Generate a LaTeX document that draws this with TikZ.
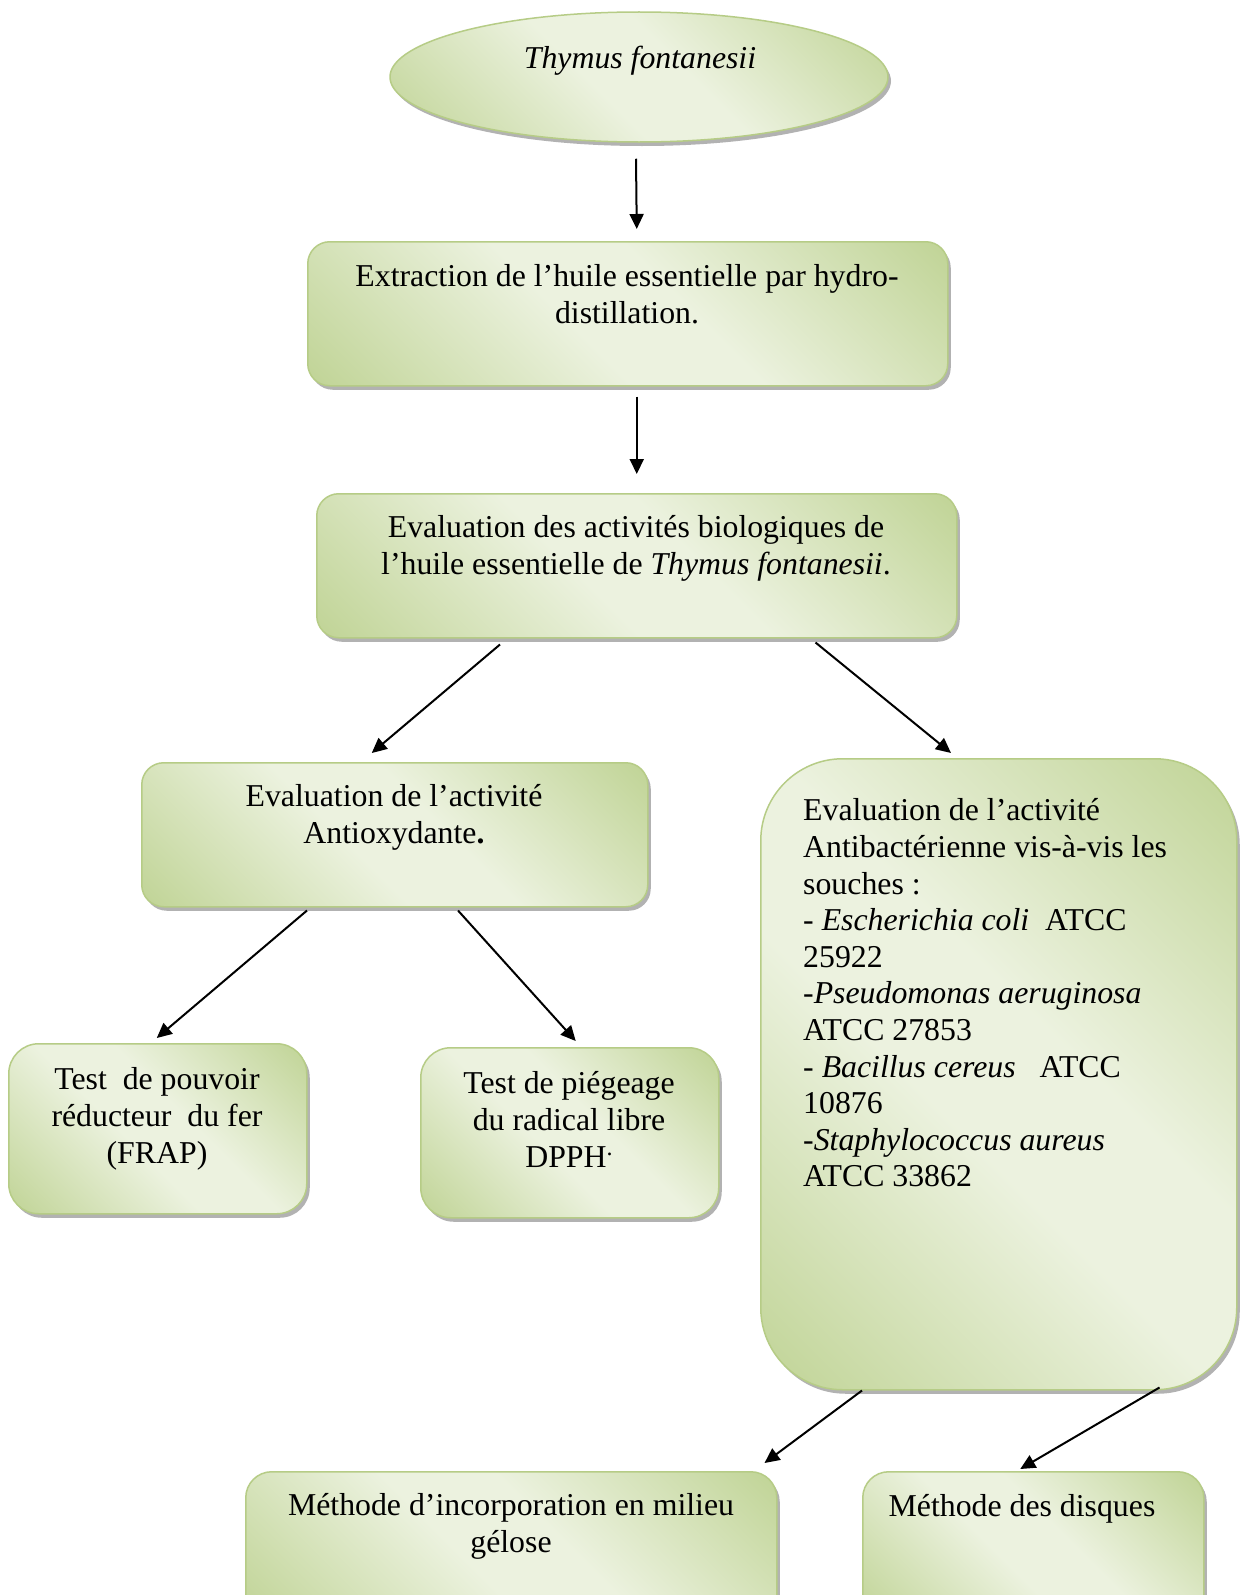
\documentclass[tikz,border=0pt]{standalone}
\usepackage{fontspec}
\setmainfont{Liberation Serif}
\usetikzlibrary{shapes.geometric,shadows,arrows.meta,calc}
\definecolor{gDark}{RGB}{194,213,153}
\definecolor{gLight}{RGB}{236,242,223}
\definecolor{gEdge}{RGB}{182,204,134}
\pgfdeclarehorizontalshading{moss}{100bp}{color(0bp)=(gDark); color(16bp)=(gDark); color(44bp)=(gLight); color(56bp)=(gLight); color(84bp)=(gDark); color(100bp)=(gDark)}
\begin{document}
\begin{tikzpicture}[x=1pt,y=-1pt,
  box/.style={draw=gEdge, line width=1.5pt, shade, shading=moss, shading angle=45,
    rounded corners=22pt, inner sep=0pt,
    drop shadow={shadow xshift=3pt, shadow yshift=-4pt, fill=black!55, opacity=0.55}},
  txt/.style={font=\fontsize{31.8}{36.6}\selectfont, inner sep=0pt, align=center},
  arr/.style={line width=2pt, -{Triangle[length=15pt,width=14pt]}}]
\path[use as bounding box, clip] (0,0) rectangle (1240,1595);
\fill[white] (0,0) rectangle (1240,1595);

% boxes
\node[box, ellipse, sharp corners, minimum width=498pt, minimum height=130pt] (e) at (639,77) {};
\node[box, minimum width=640pt, minimum height=144pt, anchor=north west] (b2) at (307,241) {};
\node[box, minimum width=640pt, minimum height=144pt, anchor=north west] (b3) at (316,493) {};
\node[box, minimum width=506pt, minimum height=144pt, anchor=north west] (b4) at (141,762) {};
\node[box, rounded corners=82pt, minimum width=476pt, minimum height=631pt, anchor=north west] (b5) at (760,758) {};
\node[box, rounded corners=30pt, minimum width=298pt, minimum height=170pt, anchor=north west] (b6) at (8,1043) {};
\node[box, rounded corners=30pt, minimum width=298pt, minimum height=170pt, anchor=north west] (b7) at (420,1047) {};
\node[box, rounded corners=26pt, minimum width=531pt, minimum height=150pt, anchor=north west] (b8) at (245,1471) {};
\node[box, rounded corners=26pt, minimum width=341pt, minimum height=150pt, anchor=north west] (b9) at (862,1471) {};

% texts
\node[txt, anchor=base] (et) at (640,69) {\itshape Thymus fontanesii};
\node[txt, anchor=north] (b2t) at (627,261) {\strut Extraction de l’huile essentielle par hydro-\\distillation.};
\node[txt, anchor=north] (b3t) at (636,512) {\strut Evaluation des activités biologiques de\\l’huile essentielle de \textit{Thymus fontanesii}.};
\node[txt, anchor=north] (b4t) at (394,781) {\strut Evaluation de l’activité\\Antioxydante\textbf{.}};
\node[txt, anchor=north west, align=left] (b5t) at (803,795) {\strut Evaluation de l’activité\\
Antibactérienne vis-à-vis les\\
souches :\\
- \textit{Escherichia coli}\ \ ATCC\\
25922\\
-\textit{Pseudomonas aeruginosa}\\
ATCC 27853\\
- \textit{Bacillus cereus}\ \ \ ATCC\\
10876\\
-\textit{Staphylococcus aureus}\\
ATCC 33862};
\node[txt, anchor=north] (b6t) at (157,1064) {\strut Test\ \ de pouvoir\\réducteur\ \ du fer\\(FRAP)};
\node[txt, anchor=north] (b7t) at (569,1068) {\strut Test de piégeage\\du radical libre\\DPPH\smash{\raisebox{0.36em}{\fontsize{24}{24}\selectfont .}}};
\node[txt, anchor=north] (b8t) at (511,1490) {\strut Méthode d’incorporation en milieu\\gélose};
\node[txt, anchor=base] (b9t) at (1022,1516) {Méthode des disques};

% connectors
\draw[arr] ($(e.south)+(-3,16)$) -- ($(b2.north)+(9,-12)$);
\draw[arr] ($(b2.south)+(9,10)$) -- ($(b3.north)+(0,-19)$);
\draw[arr] ($(b3.south west)+(184,6)$) -- ($(b4.north)+(-23,-9)$);
\draw[arr] ($(b3.south east)+(-142,4)$) -- ($(b5.north west)+(191,-5)$);
\draw[arr] ($(b4.south west)+(166,3)$) -- ($(b6.north)+(-1,-5)$);
\draw[arr] ($(b4.south west)+(317,3)$) -- ($(b7.north)+(6,-6)$);
\draw[arr] ($(b5.south west)+(102,0)$) -- ($(b8.north east)+(-13,-8)$);
\draw[arr] ($(b5.south east)+(-78,-3)$) -- ($(b9.north)+(-13,-2)$);
\end{tikzpicture}
\end{document}
